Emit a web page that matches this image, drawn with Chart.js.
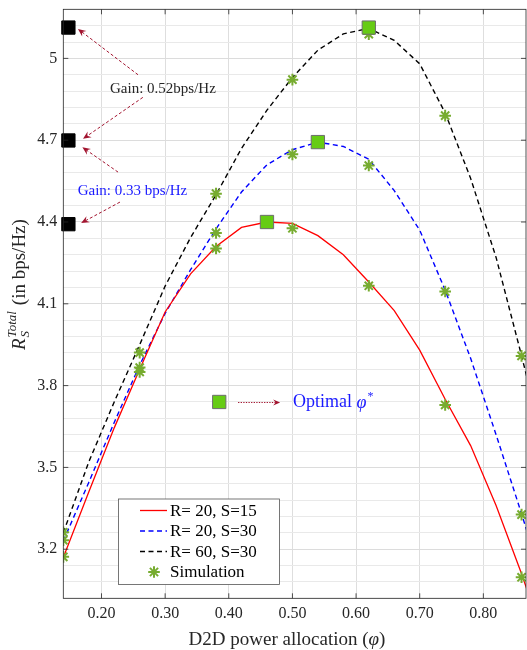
<!DOCTYPE html>
<html>
<head>
<meta charset="utf-8">
<script src="https://cdn.jsdelivr.net/npm/chart.js@4.4.0/dist/chart.umd.min.js"></script>
<style>
html,body{margin:0;padding:0;background:#ffffff;}
#wrap{width:527px;height:650px;position:relative;}
</style>
</head>
<body>
<div id="wrap"><canvas id="c" width="527" height="650"></canvas></div>
<script>
// ---------------- data ----------------
const phi = [0.14,0.18,0.22,0.26,0.30,0.34,0.38,0.42,0.46,0.50,0.54,0.58,0.62,0.66,0.70,0.74,0.78,0.82,0.86,0.90];
const rateR20S15 = [3.17,3.41,3.645,3.86,4.07,4.21,4.31,4.38,4.40,4.395,4.35,4.28,4.18,4.075,3.93,3.75,3.58,3.36,3.11,2.84];
const rateR20S30 = [3.23,3.445,3.665,3.875,4.065,4.225,4.375,4.51,4.61,4.665,4.693,4.677,4.63,4.515,4.37,4.15,3.90,3.62,3.33,3.03];
const rateR60S30 = [3.26,3.52,3.74,3.95,4.165,4.343,4.50,4.67,4.81,4.93,5.03,5.09,5.11,5.066,4.98,4.80,4.56,4.27,3.91,3.53];

const simPhi = [0.14,0.26,0.38,0.50,0.62,0.74,0.86];
const simR20S15 = [3.172,3.85,4.303,4.377,4.166,3.729,3.097];
const simR20S30 = [3.233,3.866,4.36,4.648,4.607,4.145,3.327];
const simR60S30 = [3.262,3.921,4.504,4.922,5.089,4.79,3.909];

const optPhi = [0.46,0.54,0.62];
const optRate = [4.40,4.693,5.113];

const peakMarkPhi = [0.148,0.148,0.148];
const peakMarkRate = [4.392,4.699,5.113];

const legendKeyPhi = [0.385];
const legendKeyRate = [3.74];

const xTickValues = [0.20,0.30,0.40,0.50,0.60,0.70,0.80];
const xTickLabels = ['0.20','0.30','0.40','0.50','0.60','0.70','0.80'];
const yTickValues = [3.2,3.5,3.8,4.1,4.4,4.7,5.0];
const yTickLabels = ['3.2','3.5','3.8','4.1','4.4','4.7','5'];
const yMinorStep = 0.06;
const xMin = 0.14, xMax = 0.867, yMin = 3.02, yMax = 5.18;

// annotations (data coordinates)
const gainArrows = [
  [0.2574,4.940,0.163,5.108],
  [0.265,4.857,0.171,4.705],
  [0.226,4.583,0.170,4.674],
  [0.229,4.473,0.168,4.396]
];
const gainText1 = {text:'Gain: 0.52bps/Hz', x:0.2134, y:4.889};
const gainText2 = {text:'Gain: 0.33 bps/Hz', x:0.1626, y:4.513};
const optimalArrow = [0.4146,3.738,0.4807,3.738];
const optimalTextPos = {x:0.501, y:3.738};

// ---------------- styling ----------------
const SERIF = "'Liberation Serif','Times New Roman',serif";
const AX = '#262626';
const SIMGREEN = '#77AC30';
const OPTGREEN = '#66CC14';
const ARROWRED = '#A2142F';

const pts = (xs, ys) => xs.map((x,i)=>({x:x, y:ys[i]}));
const isMajorY = v => yTickValues.some(t => Math.abs(t - v) < 1e-6);

function arrowHead(ctx, x1, y1, x2, y2, len, half){
  const ang = Math.atan2(y2-y1, x2-x1);
  ctx.save();
  ctx.translate(x2,y2); ctx.rotate(ang);
  ctx.setLineDash([]);
  ctx.beginPath();
  ctx.moveTo(0,0); ctx.lineTo(-len,-half); ctx.lineTo(-len*0.65,0); ctx.lineTo(-len,half);
  ctx.closePath(); ctx.fill();
  ctx.restore();
}
function arrow(ctx, x1, y1, x2, y2, dash, len, half){
  const d = Math.hypot(x2-x1, y2-y1);
  const ux = (x2-x1)/d, uy = (y2-y1)/d;
  ctx.setLineDash(dash);
  ctx.beginPath(); ctx.moveTo(x1,y1); ctx.lineTo(x2-ux*len*0.6, y2-uy*len*0.6); ctx.stroke();
  arrowHead(ctx, x1,y1,x2,y2,len,half);
}

const decor = {
  id:'decor',
  afterDraw(chart){
    const {ctx, chartArea:a, scales:{x, y}} = chart;
    ctx.save();
    // box
    ctx.setLineDash([]);
    ctx.strokeStyle = AX; ctx.lineWidth = 0.8;
    ctx.strokeRect(a.left, a.top, a.right-a.left, a.bottom-a.top);
    // inner ticks
    ctx.beginPath();
    xTickValues.forEach(v => {
      const px = x.getPixelForValue(v);
      ctx.moveTo(px, a.bottom); ctx.lineTo(px, a.bottom-5);
      ctx.moveTo(px, a.top); ctx.lineTo(px, a.top+5);
    });
    yTickValues.forEach(v => {
      const py = y.getPixelForValue(v);
      ctx.moveTo(a.left, py); ctx.lineTo(a.left+5, py);
      ctx.moveTo(a.right, py); ctx.lineTo(a.right-5, py);
    });
    ctx.stroke();

    // gain arrows
    ctx.strokeStyle = ARROWRED; ctx.fillStyle = ARROWRED; ctx.lineWidth = 1;
    gainArrows.forEach(g => {
      arrow(ctx, x.getPixelForValue(g[0]), y.getPixelForValue(g[1]),
                 x.getPixelForValue(g[2]), y.getPixelForValue(g[3]), [3,2.2], 8, 3.5);
    });
    // optimal arrow
    arrow(ctx, x.getPixelForValue(optimalArrow[0]), y.getPixelForValue(optimalArrow[1]),
               x.getPixelForValue(optimalArrow[2]), y.getPixelForValue(optimalArrow[3]), [1.3,1.3], 7, 3);
    ctx.setLineDash([]);

    // gain texts
    ctx.textBaseline = 'middle'; ctx.textAlign = 'left';
    ctx.font = '15px ' + SERIF;
    ctx.fillStyle = '#262626';
    ctx.fillText(gainText1.text, x.getPixelForValue(gainText1.x), y.getPixelForValue(gainText1.y));
    ctx.fillStyle = '#1a1aff';
    ctx.fillText(gainText2.text, x.getPixelForValue(gainText2.x), y.getPixelForValue(gainText2.y));

    // Optimal phi*
    {
      let px = x.getPixelForValue(optimalTextPos.x), py = y.getPixelForValue(optimalTextPos.y);
      ctx.fillStyle = '#1a1aff';
      ctx.font = '18px ' + SERIF;
      ctx.fillText('Optimal ', px, py); px += ctx.measureText('Optimal ').width;
      ctx.font = 'italic 18px ' + SERIF;
      ctx.fillText('\u03C6', px, py+1); px += ctx.measureText('\u03C6').width + 1;
      ctx.font = '12px ' + SERIF;
      ctx.fillText('*', px, py-6);
    }

    // legend
    {
      const L = 118.5, T = 499, R = 279.5, B = 584.5;
      ctx.fillStyle = '#ffffff';
      ctx.fillRect(L, T, R-L, B-T);
      ctx.strokeStyle = '#555555'; ctx.lineWidth = 0.8;
      ctx.strokeRect(L, T, R-L, B-T);
      const rows = [510.5, 531, 551.5, 572];
      const items = chart.data.datasets.filter(d => d.inLegend);
      ctx.font = '17px ' + SERIF; ctx.textBaseline = 'middle';
      items.forEach((d,i) => {
        const ry = rows[i];
        if (d.showLine) {
          ctx.strokeStyle = d.borderColor; ctx.lineWidth = d.borderWidth;
          ctx.setLineDash(d.borderDash || []);
          ctx.beginPath(); ctx.moveTo(140, ry); ctx.lineTo(167, ry); ctx.stroke();
          ctx.setLineDash([]);
        } else {
          ctx.strokeStyle = d.borderColor; ctx.lineWidth = d.borderWidth;
          const r = d.pointRadius;
          ctx.beginPath();
          for (let k=0;k<4;k++){
            const an = k*Math.PI/4;
            ctx.moveTo(154 - r*Math.cos(an), ry - r*Math.sin(an));
            ctx.lineTo(154 + r*Math.cos(an), ry + r*Math.sin(an));
          }
          ctx.stroke();
        }
        ctx.fillStyle = '#000000';
        ctx.fillText(d.label, 170, ry+1);
      });
    }

    // x title
    {
      ctx.fillStyle = AX; ctx.textBaseline = 'alphabetic';
      const parts = [['D2D power allocation (', '19px '], ['\u03C6', 'italic 19px '], [')', '19px ']];
      let w = 0;
      parts.forEach(p => { ctx.font = p[1]+SERIF; w += ctx.measureText(p[0]).width; });
      let px = 287 - w/2;
      parts.forEach(p => { ctx.font = p[1]+SERIF; ctx.fillText(p[0], px, 645); px += ctx.measureText(p[0]).width; });
    }
    // y title (rotated)
    {
      ctx.save();
      ctx.translate(25, 350);
      ctx.rotate(-Math.PI/2);
      ctx.fillStyle = AX; ctx.textBaseline = 'alphabetic'; ctx.textAlign = 'left';
      let px = 0;
      ctx.font = 'italic 19px ' + SERIF;
      ctx.fillText('R', px, 0); px += ctx.measureText('R').width + 1;
      ctx.font = 'italic 13px ' + SERIF;
      const wS = ctx.measureText('S').width, wT = ctx.measureText('Total').width;
      ctx.fillText('S', px, 4);
      ctx.fillText('Total', px, -9);
      px += Math.max(wS, wT) + 6;
      ctx.font = '19px ' + SERIF;
      ctx.fillText('(in bps/Hz)', px, 0);
      ctx.restore();
    }
    ctx.restore();
  }
};

const ctx = document.getElementById('c').getContext('2d');
new Chart(ctx, {
  type:'scatter',
  data:{
    datasets:[
      {label:'R= 20, S=15', data:pts(phi, rateR20S15), showLine:true, borderColor:'#ff0000', borderWidth:1.3, pointRadius:0, order:3, inLegend:true},
      {label:'R= 20, S=30', data:pts(phi, rateR20S30), showLine:true, borderColor:'#0000ff', borderWidth:1.4, borderDash:[5,3.5], pointRadius:0, order:3, inLegend:true},
      {label:'R= 60, S=30', data:pts(phi, rateR60S30), showLine:true, borderColor:'#000000', borderWidth:1.4, borderDash:[5,3.5], pointRadius:0, order:3, inLegend:true},
      {label:'Simulation', data:[].concat(pts(simPhi, simR20S15), pts(simPhi, simR20S30), pts(simPhi, simR60S30)),
        showLine:false, pointStyle:'star', pointRadius:5.8, borderColor:SIMGREEN, backgroundColor:SIMGREEN, borderWidth:2, order:2, inLegend:true},
      {label:'Optimal', data:pts(optPhi, optRate).concat(pts(legendKeyPhi, legendKeyRate)), showLine:false, pointStyle:'rect', pointRadius:9.4,
        backgroundColor:OPTGREEN, borderColor:'#6e6e6e', borderWidth:1, order:1},
      {label:'Peak', data:pts(peakMarkPhi, peakMarkRate), showLine:false, pointStyle:'rect', pointRadius:9.4,
        backgroundColor:'#000000', borderColor:'#000000', borderWidth:1, order:1, clip:false}
    ]
  },
  options:{
    responsive:false, animation:false, events:[],
    layout:{autoPadding:false, padding:{top:9.3, right:1, left:0, bottom:0}},
    plugins:{legend:{display:false}, tooltip:{enabled:false}, title:{display:false}},
    scales:{
      x:{
        type:'linear', min:xMin, max:xMax,
        afterBuildTicks: s => { s.ticks = xTickValues.map(v => ({value:v})); },
        afterFit: s => { s.height = 51.7; s.paddingLeft = 0; s.paddingRight = 0; },
        ticks:{
          callback:(v) => { const i = xTickValues.findIndex(t => Math.abs(t-v)<1e-9); return i>=0 ? xTickLabels[i] : ''; },
          font:{family:SERIF, size:16}, color:AX, padding:6, maxRotation:0, autoSkip:false
        },
        grid:{color:'#dedede', lineWidth:1, drawTicks:false},
        border:{display:false}
      },
      y:{
        type:'linear', min:yMin, max:yMax,
        afterBuildTicks: s => {
          const t = [];
          const n = Math.round((yMax - yMin)/yMinorStep);
          for (let k=0;k<=n;k++) t.push({value: +(yMin + k*yMinorStep).toFixed(4)});
          s.ticks = t;
        },
        afterFit: s => { s.width = 63.3; s.paddingTop = 0; s.paddingBottom = 0; },
        ticks:{
          callback:(v) => { const i = yTickValues.findIndex(t => Math.abs(t-v)<1e-6); return i>=0 ? yTickLabels[i] : ''; },
          font:{family:SERIF, size:16}, color:AX, padding:6, autoSkip:false
        },
        grid:{color:(c) => isMajorY(c.tick.value) ? '#dcdcdc' : '#e9e9e9', lineWidth:1, drawTicks:false},
        border:{display:false}
      }
    }
  },
  plugins:[decor]
});
</script>
</body>
</html>
